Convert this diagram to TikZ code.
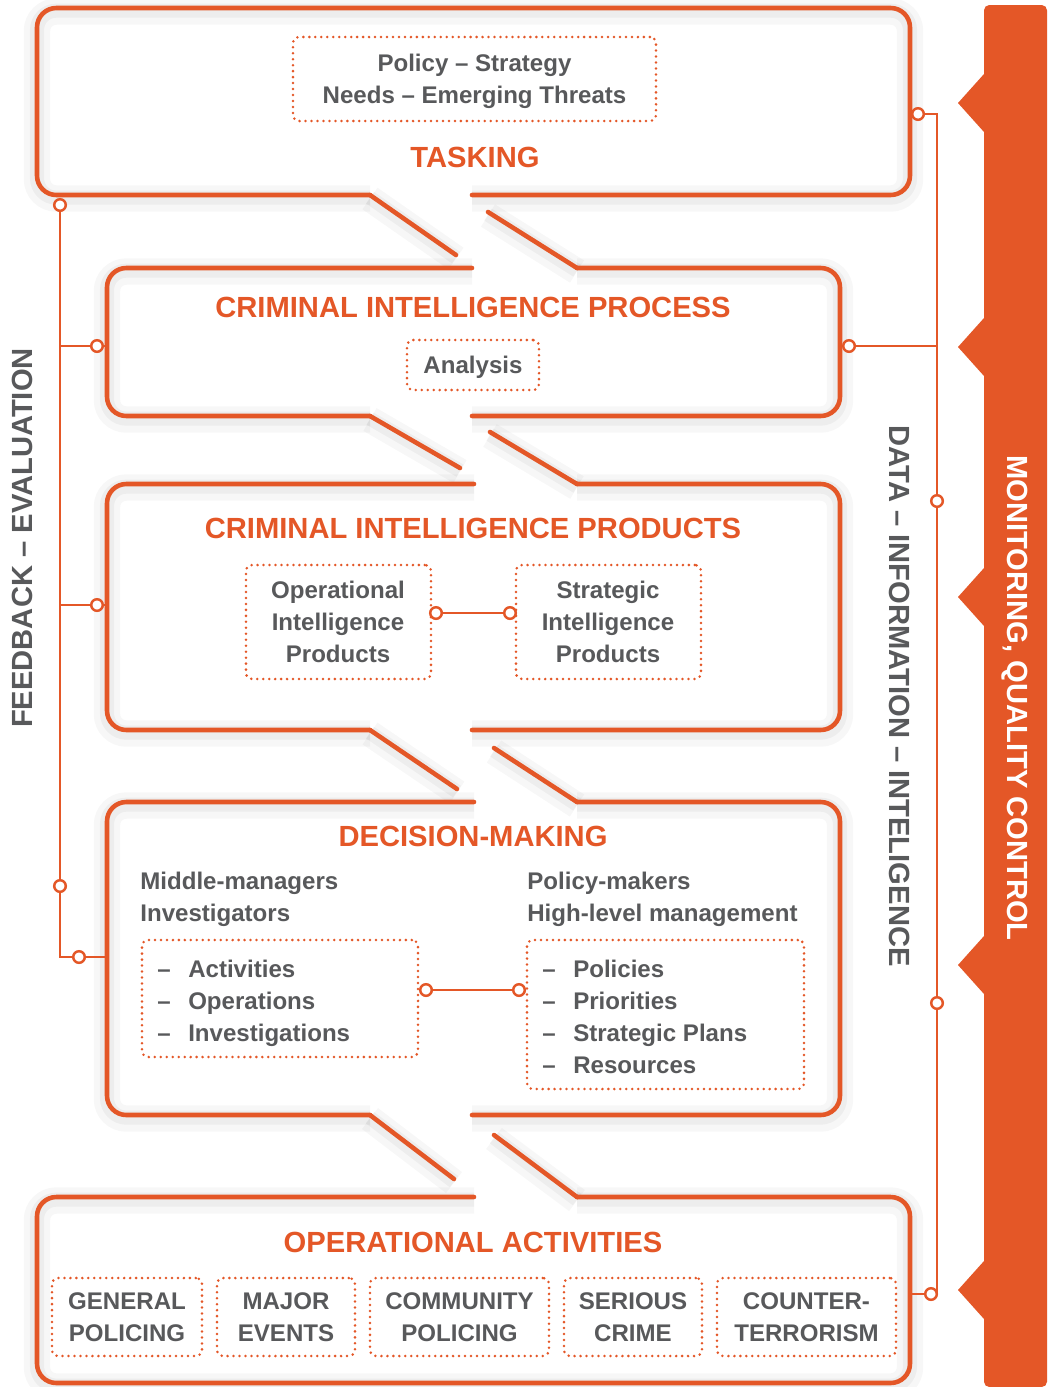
\documentclass[tikz,border=0pt]{standalone}
\usepackage{fontspec}
\setmainfont{Liberation Sans}
\usetikzlibrary{fit}
\definecolor{ora}{HTML}{E45727}
\definecolor{txtgray}{HTML}{58595B}
\begin{document}
\begin{tikzpicture}[x=0.02cm, y=-0.02cm,
  outline/.style={draw=ora, line width=2.6pt, line cap=round, line join=round,
    preaction={draw=black, opacity=0.03, line width=15pt, transform canvas={yshift=-2pt}},
    preaction={draw=black, opacity=0.04, line width=8pt, transform canvas={yshift=-1.5pt}}},
  rounded/.style={outline, rounded corners=11pt},
  dotbox/.style={draw=ora, line width=1.6pt, dash pattern=on 0pt off 3.4pt, line cap=round,
    rounded corners=3.5pt, inner sep=0pt},
  heading/.style={text=ora, font=\bfseries\fontsize{16.6}{20}\selectfont, inner sep=0pt},
  body/.style={text=txtgray, font=\bfseries\fontsize{13.7}{18.1}\selectfont, inner sep=0pt, align=center},
  bodyleft/.style={body, align=left, anchor=west},
  sidelabel/.style={font=\bfseries\fontsize{16.6}{20}\selectfont, inner sep=0pt},
  link/.style={draw=ora, line width=1.3pt},
  port/.style={circle, draw=ora, fill=white, line width=1.4pt, minimum size=6.6pt, inner sep=0pt},
]
\useasboundingbox (0,0) rectangle (1055,1387);
\fill[white] (0,0) rectangle (1055,1387);

% ---- monitoring band with its notches ----
\fill[ora, rounded corners=3pt] (984,5) rectangle (1047,1387);
\foreach \t in {103,347,597,965,1290}
  \fill[ora] (992,\t-29) -- (984,\t-29) -- (958,\t) -- (984,\t+29) -- (992,\t+29) -- cycle;
\node[sidelabel, text=white, rotate=-90] (monitor) at (1015,698) {MONITORING, QUALITY CONTROL};

% ---- stage outlines ----
% tasking
\draw[rounded] (472,195) -- (910,195) -- (910,8) -- (37,8) -- (37,195) -- (370,195);
\draw[outline] (370,195) -- (456,255);
% criminal intelligence process
\draw[outline] (488,212) -- (577,268);
\draw[rounded] (577,268) -- (840,268) -- (840,416) -- (472,416);
\draw[rounded] (472,268) -- (107,268) -- (107,416) -- (370,416);
\draw[outline] (370,416) -- (460,468);
% criminal intelligence products
\draw[outline] (490,432) -- (577,484);
\draw[rounded] (577,484) -- (840,484) -- (840,730) -- (472,730);
\draw[rounded] (474,484) -- (107,484) -- (107,730) -- (370,730);
\draw[outline] (370,730) -- (457,789);
% decision-making
\draw[outline] (494,748) -- (577,802);
\draw[rounded] (577,802) -- (840,802) -- (840,1115) -- (472,1115);
\draw[rounded] (474,802) -- (107,802) -- (107,1115) -- (370,1115);
\draw[outline] (370,1115) -- (454,1179);
% operational activities
\draw[outline] (494,1135) -- (577,1197);
\draw[rounded] (577,1197) -- (910,1197) -- (910,1383) -- (37,1383) -- (37,1197) -- (474,1197);

% ---- tasking ----
\node[dotbox, fit={(293,37) (656,121)}] (needs) {};
\node[body] (needsT) at (474.5,81) {Policy – Strategy\\Needs – Emerging Threats};
\node[heading] (tasking) at (475,157) {TASKING};

% ---- process ----
\node[heading] (process) at (473,307) {CRIMINAL INTELLIGENCE PROCESS};
\node[dotbox, fit={(407,340) (539,390)}] (analysis) {};
\node[body] (analysisT) at (473,367) {Analysis};

% ---- products ----
\node[heading] (products) at (473,528) {CRIMINAL INTELLIGENCE PRODUCTS};
\node[dotbox, fit={(246,565) (431,679)}] (opprod) {};
\node[dotbox, fit={(516,565) (701,679)}] (stprod) {};
\node[body] (opprodT) at (338,622) {Operational\\Intelligence\\Products};
\node[body] (stprodT) at (608,622) {Strategic\\Intelligence\\Products};
\coordinate (pp1) at (436,613);
\coordinate (pp2) at (510,613);
\draw[link] (pp1) -- (pp2);
\node[port] (pport1) at (pp1) {};
\node[port] (pport2) at (pp2) {};

% ---- decision-making ----
\node[heading] (decision) at (473,836) {DECISION-MAKING};
\node[bodyleft] (middle) at (140,899.5) {Middle-managers\\Investigators};
\node[bodyleft] (policy) at (527,899.5) {Policy-makers\\High-level management};
\node[dotbox, fit={(142,940) (418,1057)}] (opbox) {};
\node[dotbox, fit={(527,940) (804,1089)}] (stbox) {};
\node[bodyleft] (opitems) at (157,1003.5)
  {\makebox[17.6pt][l]{–}Activities\\\makebox[17.6pt][l]{–}Operations\\\makebox[17.6pt][l]{–}Investigations};
\node[bodyleft] (stitems) at (542,1017)
  {\makebox[17.6pt][l]{–}Policies\\\makebox[17.6pt][l]{–}Priorities\\\makebox[17.6pt][l]{–}Strategic Plans\\\makebox[17.6pt][l]{–}Resources};
\coordinate (dm1) at (426,990);
\coordinate (dm2) at (519,990);
\draw[link] (dm1) -- (dm2);
\node[port] (dport1) at (dm1) {};
\node[port] (dport2) at (dm2) {};

% ---- operational activities ----
\node[heading] (activities) at (473,1242) {OPERATIONAL ACTIVITIES};
\node[dotbox, fit={(52,1278) (202,1356)}] (gen) {};
\node[dotbox, fit={(217,1278) (355,1356)}] (maj) {};
\node[dotbox, fit={(370,1278) (549,1356)}] (com) {};
\node[dotbox, fit={(564,1278) (702,1356)}] (ser) {};
\node[dotbox, fit={(717,1278) (896,1356)}] (ctr) {};
\node[body] (genT) at (gen) {GENERAL\\POLICING};
\node[body] (majT) at (maj) {MAJOR\\EVENTS};
\node[body] (comT) at (com) {COMMUNITY\\POLICING};
\node[body] (serT) at (ser) {SERIOUS\\CRIME};
\node[body] (ctrT) at (ctr) {COUNTER-\\TERRORISM};

% ---- feedback / evaluation loop ----
\node[sidelabel, text=txtgray, rotate=90] (feedback) at (22,538) {FEEDBACK – EVALUATION};
\coordinate (fb1) at (60,205);
\coordinate (fb2) at (97,346);
\coordinate (fb3) at (97,605);
\coordinate (fb4) at (60,886);
\coordinate (fb5) at (79,957);
\coordinate (fbj2) at (60,346);
\coordinate (fbj3) at (60,605);
\coordinate (fbbot) at (60,957);
\coordinate (b2w) at (107,346);
\coordinate (b3w) at (107,605);
\coordinate (b4w) at (107,957);
\draw[link] (fb1) -- (fbbot) -- (b4w);
\draw[link] (fbj2) -- (b2w);
\draw[link] (fbj3) -- (b3w);
\foreach \p in {fb1,fb2,fb3,fb4,fb5}
  \node[port] (\p port) at (\p) {};

% ---- data / information / intelligence line ----
\node[sidelabel, text=txtgray, rotate=-90] (data) at (900,696) {DATA – INFORMATION – INTELIGENCE};
\coordinate (dr1) at (918,114);
\coordinate (dr2) at (849,346);
\coordinate (dr3) at (937,501);
\coordinate (dr4) at (937,1003);
\coordinate (dr5) at (931,1294);
\coordinate (drtop) at (937,114);
\coordinate (drbot) at (937,1294);
\coordinate (drj2) at (937,346);
\coordinate (b5e) at (910,1294);
\draw[link] (dr1) -- (drtop) -- (drbot);
\draw[link] (dr2) -- (drj2);
\draw[link] (b5e) -- (dr5);
\foreach \p in {dr1,dr2,dr3,dr4,dr5}
  \node[port] (\p port) at (\p) {};
\end{tikzpicture}
\end{document}
